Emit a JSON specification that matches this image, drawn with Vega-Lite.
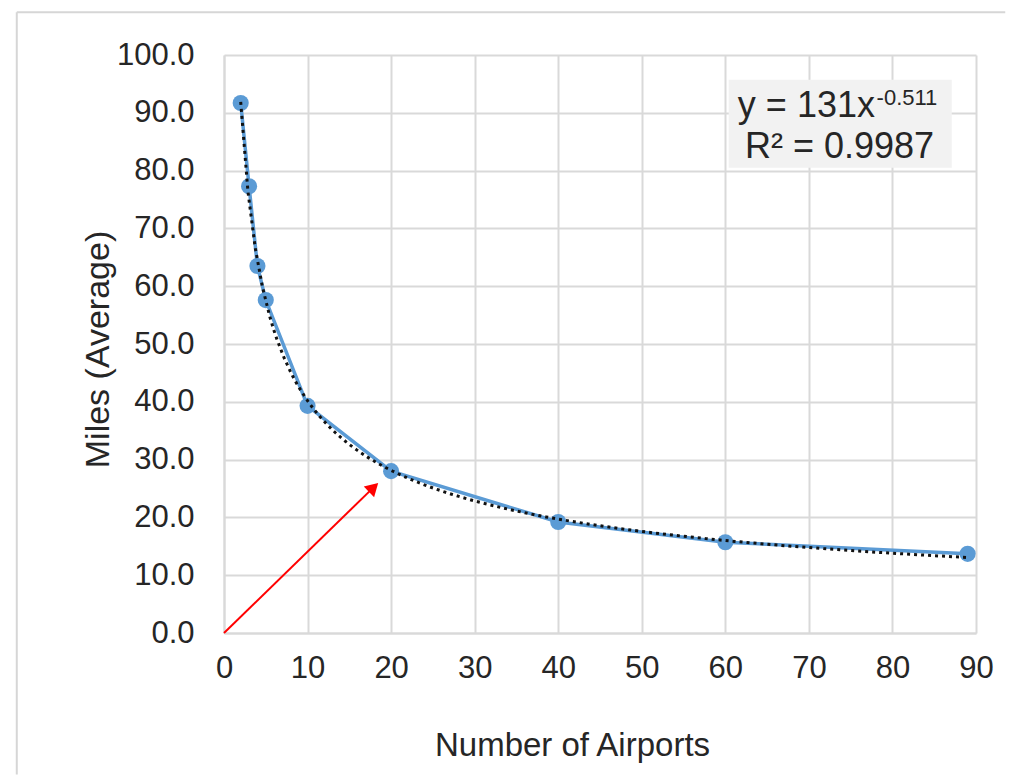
{
  "$schema": "https://vega.github.io/schema/vega-lite/v6.json",
  "width": 752,
  "height": 578,
  "autosize": {"type": "none"},
  "padding": {"left": 224, "top": 55, "right": 40, "bottom": 146},
  "background": "white",
  "config": {
    "font": "Liberation Sans",
    "view": {"stroke": null},
    "axis": {
      "gridColor": "#d9d9d9",
      "gridWidth": 2,
      "domainColor": "#d9d9d9",
      "domainWidth": 2,
      "ticks": false,
      "labelFlush": false,
      "labelFont": "Liberation Sans",
      "labelFontSize": 31,
      "labelColor": "#262626",
      "titleFont": "Liberation Sans",
      "titleFontWeight": "normal",
      "titleColor": "#262626"
    }
  },
  "datasets": {
    "obs": [
      {"airports": 2, "miles": 91.7},
      {"airports": 3, "miles": 77.3},
      {"airports": 4, "miles": 63.5},
      {"airports": 5, "miles": 57.6},
      {"airports": 10, "miles": 39.3},
      {"airports": 20, "miles": 28.0},
      {"airports": 40, "miles": 19.2},
      {"airports": 60, "miles": 15.7},
      {"airports": 89, "miles": 13.7}
    ],
    "frame": [
      {"x0": -24.8, "x1": -24.8, "y0": 107.4, "y1": -24.5},
      {"x0": -24.8, "x1": 93.5, "y0": 107.4, "y1": 107.4}
    ],
    "arrow": [{"x0": 0, "y0": 0, "x1": 17.9, "y1": 25.2}],
    "box": [{"x0": 60.4, "x1": 87.1, "y0": 80.5, "y1": 95.7}],
    "labels": [
      {"tx": 61.5, "ty": 89.3, "label": "y = 131x"},
      {"tx": 62.35, "ty": 82.2, "label": "R² = 0.9987"}
    ],
    "sup": [{"tx": 78.1, "ty": 91.3, "label": "-0.511"}]
  },
  "layer": [
    {
      "data": {"name": "frame"},
      "mark": {"type": "rule", "stroke": "#d6d6d6", "strokeWidth": 2, "clip": false},
      "encoding": {
        "x": {"field": "x0", "type": "quantitative"},
        "x2": {"field": "x1"},
        "y": {"field": "y0", "type": "quantitative"},
        "y2": {"field": "y1"}
      }
    },
    {
      "data": {"name": "obs"},
      "mark": {"type": "line", "color": "#5b9bd5", "strokeWidth": 3.5},
      "encoding": {
        "x": {
          "field": "airports", "type": "quantitative",
          "scale": {"domain": [0, 90], "nice": false},
          "axis": {
            "values": [0, 10, 20, 30, 40, 50, 60, 70, 80, 90],
            "labelPadding": 20,
            "title": "Number of Airports",
            "titleFontSize": 33,
            "titleX": 348,
            "titleY": 122,
            "titleAlign": "center",
            "titleBaseline": "alphabetic"
          }
        },
        "y": {
          "field": "miles", "type": "quantitative",
          "scale": {"domain": [0, 100], "nice": false},
          "axis": {
            "values": [0, 10, 20, 30, 40, 50, 60, 70, 80, 90, 100],
            "format": ".1f",
            "labelPadding": 30,
            "title": "Miles (Average)",
            "titleFontSize": 34,
            "titleAngle": -90,
            "titleX": -116,
            "titleY": 294,
            "titleAlign": "center",
            "titleBaseline": "alphabetic"
          }
        }
      }
    },
    {
      "data": {"name": "obs"},
      "mark": {"type": "point", "filled": true, "color": "#5b9bd5", "size": 260, "opacity": 1},
      "encoding": {
        "x": {"field": "airports", "type": "quantitative"},
        "y": {"field": "miles", "type": "quantitative"}
      }
    },
    {
      "data": {"name": "obs"},
      "transform": [
        {"regression": "miles", "on": "airports", "method": "pow", "extent": [2, 89]}
      ],
      "mark": {"type": "line", "color": "#111111", "strokeWidth": 3, "strokeDash": [3, 4]},
      "encoding": {
        "x": {"field": "airports", "type": "quantitative"},
        "y": {"field": "miles", "type": "quantitative"}
      }
    },
    {
      "data": {"name": "arrow"},
      "mark": {"type": "rule", "color": "#ff0000", "strokeWidth": 2},
      "encoding": {
        "x": {"field": "x0", "type": "quantitative"},
        "y": {"field": "y0", "type": "quantitative"},
        "x2": {"field": "x1"},
        "y2": {"field": "y1"}
      }
    },
    {
      "data": {"name": "arrow"},
      "mark": {"type": "point", "shape": "triangle-up", "filled": true, "color": "#ff0000", "size": 220, "angle": 46, "opacity": 1},
      "encoding": {
        "x": {"field": "x1", "type": "quantitative"},
        "y": {"field": "y1", "type": "quantitative"}
      }
    },
    {
      "data": {"name": "box"},
      "mark": {"type": "rect", "color": "#f2f2f2"},
      "encoding": {
        "x": {"field": "x0", "type": "quantitative"},
        "x2": {"field": "x1"},
        "y": {"field": "y0", "type": "quantitative"},
        "y2": {"field": "y1"}
      }
    },
    {
      "data": {"name": "labels"},
      "mark": {"type": "text", "align": "left", "baseline": "alphabetic", "fontSize": 36, "color": "#262626", "font": "Liberation Sans"},
      "encoding": {
        "x": {"field": "tx", "type": "quantitative"},
        "y": {"field": "ty", "type": "quantitative"},
        "text": {"field": "label"}
      }
    },
    {
      "data": {"name": "sup"},
      "mark": {"type": "text", "align": "left", "baseline": "alphabetic", "fontSize": 22, "color": "#262626", "font": "Liberation Sans"},
      "encoding": {
        "x": {"field": "tx", "type": "quantitative"},
        "y": {"field": "ty", "type": "quantitative"},
        "text": {"field": "label"}
      }
    }
  ]
}
